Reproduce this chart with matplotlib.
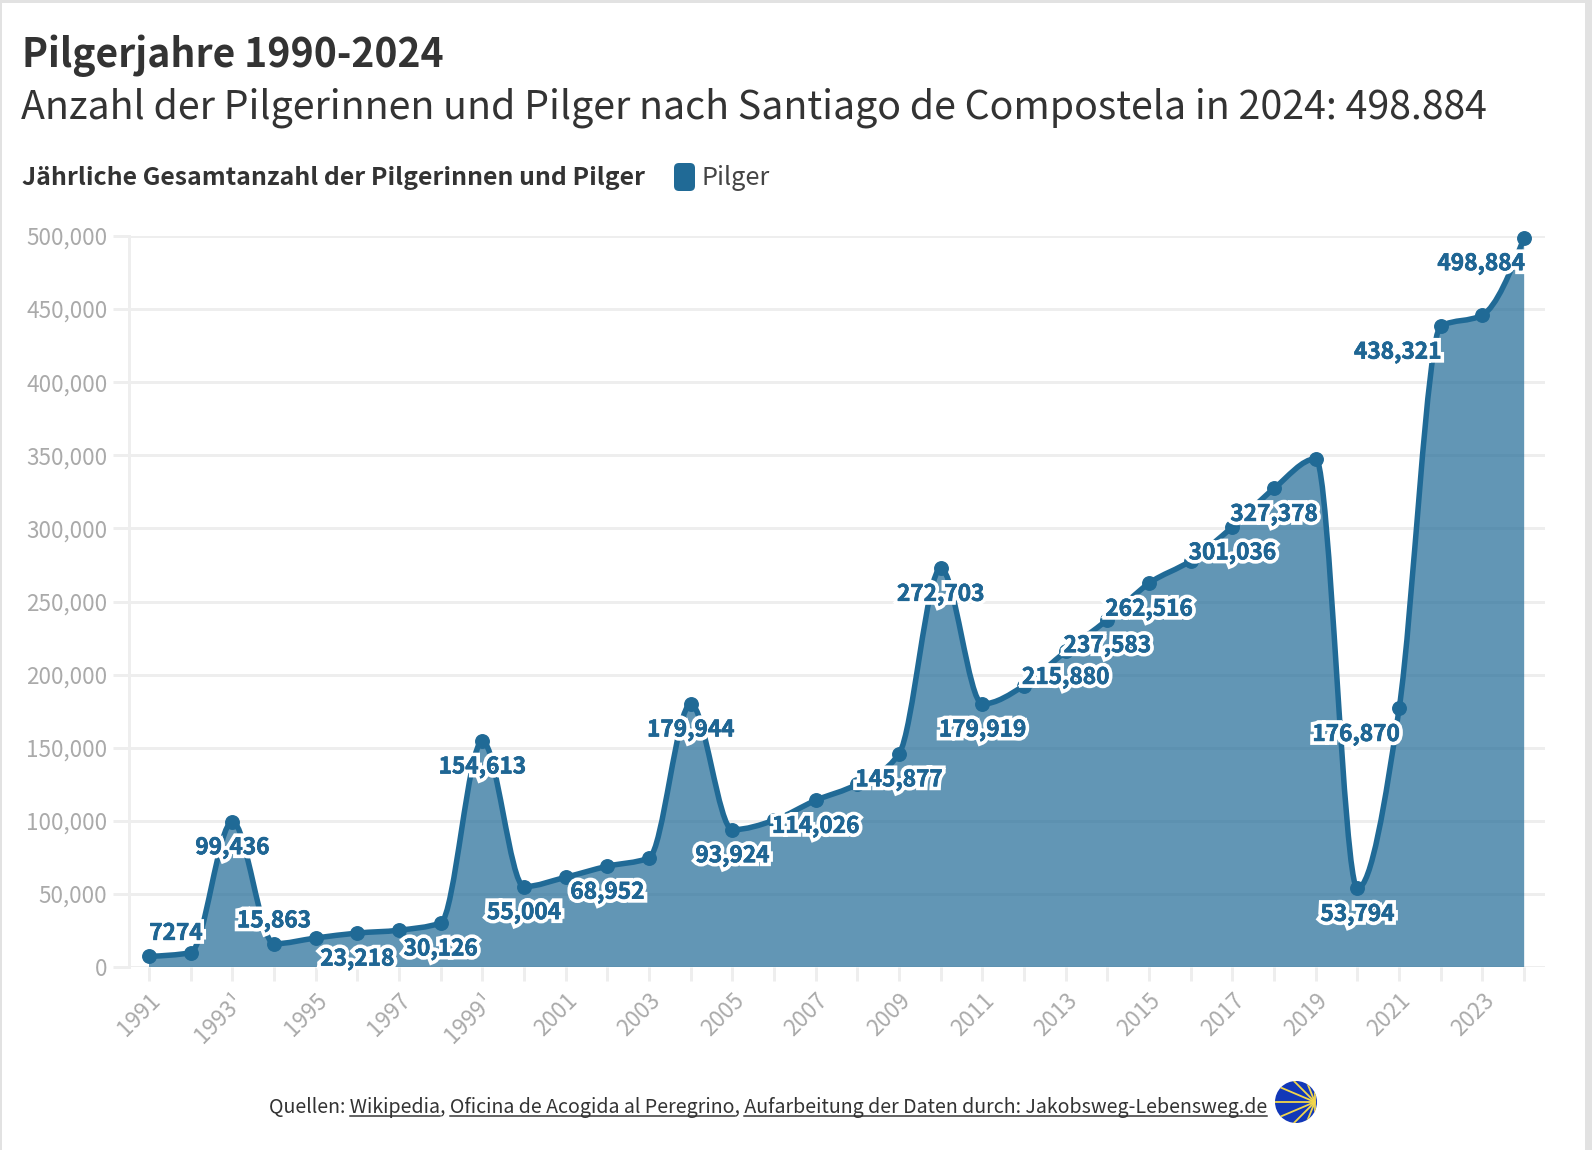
import numpy as np
import matplotlib
matplotlib.use("Agg")
import matplotlib.pyplot as plt
from matplotlib.path import Path
from matplotlib.patches import PathPatch, Rectangle, Circle, FancyBboxPatch
from matplotlib.lines import Line2D
from matplotlib.transforms import IdentityTransform
from matplotlib import patheffects as pe

plt.rcParams['font.family'] = ['Noto Sans CJK SC', 'DejaVu Sans']

# ---- data ----
years = [1991, 1992, 1993, 1994, 1995, 1996, 1997, 1998, 1999, 2000, 2001, 2002,
         2003, 2004, 2005, 2006, 2007, 2008, 2009, 2010, 2011, 2012, 2013, 2014,
         2015, 2016, 2017, 2018, 2019, 2020, 2021, 2022, 2023, 2024]
pilger = [7274, 9764, 99436, 15863, 19821, 23218, 25179, 30126, 154613, 55004,
          61418, 68952, 74614, 179944, 93924, 100377, 114026, 125141, 145877,
          272703, 179919, 192488, 215880, 237583, 262516, 277915, 301036, 327378,
          347578, 53794, 176870, 438321, 446035, 498884]
labelled_years = [1991, 1993, 1994, 1996, 1998, 1999, 2000, 2002, 2004, 2005, 2007,
                  2009, 2010, 2011, 2013, 2014, 2015, 2017, 2018, 2020, 2021, 2022, 2024]
labels_above = [1991, 1994]
labels_left = [2021, 2022, 2024]
labels_right = [1991]
ytick_values = [0, 50000, 100000, 150000, 200000, 250000, 300000, 350000, 400000, 450000, 500000]
xtick_labelled = {1991: '1991', 1993: '1993¹', 1995: '1995', 1997: '1997', 1999: '1999¹',
                  2001: '2001', 2003: '2003', 2005: '2005', 2007: '2007', 2009: '2009',
                  2011: '2011', 2013: '2013', 2015: '2015', 2017: '2017', 2019: '2019',
                  2021: '2021', 2023: '2023'}

W, H = 1592, 1150
DPI = 100
BLUE = '#206a96'
TEXT_BLUE = '#1f6694'
DARK = '#333333'
GRID = '#eeeeee'
TICKTXT = '#aaaaaa'
px = 72 / DPI


def monotone_path(x, y):
    """Same curve family as a d3 monotone-X line, as cubic Bezier segments."""
    x = np.asarray(x, float)
    y = np.asarray(y, float)
    h = np.diff(x)
    s = np.diff(y) / h
    t = np.zeros_like(y)
    for i in range(1, len(x) - 1):
        p = (s[i - 1] * h[i] + s[i] * h[i - 1]) / (h[i - 1] + h[i])
        sign = (np.sign(s[i - 1]) + np.sign(s[i]))
        t[i] = sign * min(abs(s[i - 1]), abs(s[i]), 0.5 * abs(p)) if sign != 0 else 0.0
    t[0] = (3 * s[0] - t[1]) / 2
    t[-1] = (3 * s[-1] - t[-2]) / 2
    verts = [(x[0], y[0])]
    codes = [Path.MOVETO]
    for i in range(len(x) - 1):
        d = h[i] / 3
        verts += [(x[i] + d, y[i] + d * t[i]), (x[i + 1] - d, y[i + 1] - d * t[i + 1]), (x[i + 1], y[i + 1])]
        codes += [Path.CURVE4] * 3
    return verts, codes


fig = plt.figure(figsize=(W / DPI, H / DPI), dpi=DPI, facecolor='white')


def fx(p):
    return p / W


def fy(p):
    return 1 - p / H


# browser-window edges
for (x0, y0, w, h) in [(0, 0, W, 3), (0, 0, 1.5, H), (1585, 0, 7, H)]:
    fig.add_artist(Rectangle((fx(x0), fy(y0 + h)), w / W, h / H, transform=fig.transFigure,
                             facecolor='#e2e2e2', edgecolor='none'))

# header
fig.text(fx(22), fy(67), 'Pilgerjahre 1990-2024', fontsize=28.2, fontweight='bold', color=DARK, va='baseline')
fig.text(fx(21), fy(118.5), 'Anzahl der Pilgerinnen und Pilger nach Santiago de Compostela in 2024: 498.884',
         fontsize=28.3, color=DARK, va='baseline')
fig.text(fx(22), fy(185), 'Jährliche Gesamtanzahl der Pilgerinnen und Pilger', fontsize=17.9,
         fontweight='bold', color=DARK, va='baseline')
fig.add_artist(FancyBboxPatch((674, H - 191), 21, 28, boxstyle='round,pad=0,rounding_size=5',
                              transform=IdentityTransform(), facecolor=BLUE, edgecolor='none'))
fig.text(fx(702), fy(185), 'Pilger', fontsize=18.2, color='#444444', va='baseline')

# chart
ax = fig.add_axes([fx(129), fy(967), (1545 - 129) / W, (967 - 236) / H])
ax.set_xlim(1990.52, 2024.5)
ax.set_ylim(0, 500000)
ax.set_facecolor('none')
for side in ['top', 'right', 'bottom']:
    ax.spines[side].set_visible(False)
ax.spines['left'].set_color(GRID)
ax.spines['left'].set_linewidth(3 * px)
ax.set_yticks(ytick_values)
ax.set_yticklabels([f'{v:,}' for v in ytick_values], fontsize=16.2, color=TICKTXT)
ax.tick_params(axis='y', length=16 * px, width=3 * px, color=GRID, pad=4)
ax.set_xticks(years)
ax.set_xticklabels([xtick_labelled.get(y, '') for y in years], fontsize=16.2, color=TICKTXT,
                   rotation=45, ha='right', rotation_mode='anchor')
ax.tick_params(axis='x', length=14 * px, width=3 * px, color=GRID, pad=6)
ax.yaxis.grid(True, color=GRID, linewidth=3 * px, zorder=0)
ax.set_axisbelow(True)

verts, codes = monotone_path(years, pilger)
area_verts = verts + [(years[-1], 0), (years[0], 0), verts[0]]
area_codes = codes + [Path.LINETO, Path.LINETO, Path.CLOSEPOLY]
ax.add_patch(PathPatch(Path(area_verts, area_codes), facecolor=BLUE, alpha=0.7, edgecolor='none', zorder=2))
ax.add_patch(PathPatch(Path(verts, codes), facecolor='none', edgecolor=BLUE, linewidth=5.5 * px,
                       zorder=3, clip_on=False, capstyle='round'))
ax.plot(years, pilger, linestyle='none', marker='o', markersize=13.5 * px, color=BLUE, zorder=4, clip_on=False)

for yr in labelled_years:
    val = pilger[years.index(yr)]
    dy = 23 if yr in labels_above else -26
    dx = 0
    if yr in labels_left:
        dx = -43
    if yr in labels_right:
        dx = 27
    txt = str(val) if val < 10000 else f'{val:,}'
    t = ax.annotate(txt, (yr, val), xytext=(dx * px, dy * px), textcoords='offset points',
                    ha='center', va='center', fontsize=16.3, fontweight='bold', color=TEXT_BLUE,
                    zorder=5, annotation_clip=False)
    t.set_path_effects([pe.withStroke(linewidth=8 * px, foreground='white', joinstyle='miter'),
                        pe.withStroke(linewidth=0.6 * px, foreground=TEXT_BLUE)])

# footer
src = 'Quellen: Wikipedia, Oficina de Acogida al Peregrino, Aufarbeitung der Daten durch: Jakobsweg-Lebensweg.de'
FOOT_SIZE = 14.13
foot = fig.text(fx(269), fy(1113), src, fontsize=FOOT_SIZE, color=DARK, va='baseline')
rend = fig.canvas.get_renderer()


def width(s):
    m = fig.text(0, 0, s + '|', fontsize=FOOT_SIZE)
    w = m.get_window_extent(rend).width
    m.remove()
    b = fig.text(0, 0, '|', fontsize=FOOT_SIZE)
    w2 = b.get_window_extent(rend).width
    b.remove()
    return w - w2


for seg in ['Wikipedia', 'Oficina de Acogida al Peregrino', 'Aufarbeitung der Daten durch: Jakobsweg-Lebensweg.de']:
    pre = src[:src.index(seg)]
    a = 269 + width(pre)
    b = a + width(seg)
    fig.add_artist(Line2D([fx(a), fx(b)], [fy(1116), fy(1116)], color=DARK, linewidth=1.5 * px,
                          transform=fig.transFigure))

# shell logo
logo = fig.add_axes([fx(1275), fy(1123), 42 / W, 42 / H])
logo.set_xlim(-1, 1)
logo.set_ylim(-1, 1)
logo.axis('off')
logo.add_patch(Circle((0, 0), 1, facecolor='#1238b8', edgecolor='none'))
for ang in np.radians([180, 157, 135, 112, 90, 203, 225, 248, 270]):
    logo.plot([0.9, 0.9 + 1.9 * np.cos(ang)], [0, 1.9 * np.sin(ang)], color='#f2d64b', lw=1.3,
              clip_path=logo.patches[0])

fig.savefig('out.png', dpi=DPI, facecolor='white')
